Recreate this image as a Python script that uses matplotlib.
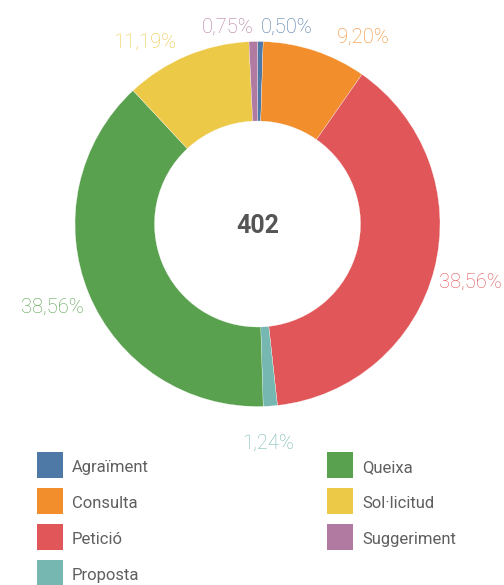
import matplotlib
matplotlib.use('Agg')
import matplotlib.pyplot as plt
import numpy as np
from matplotlib.patches import Rectangle

# ---- data ----
categories = ['Agraïment', 'Consulta', 'Petició', 'Proposta', 'Queixa', 'Sol·licitud', 'Suggeriment']
counts = [2, 37, 155, 5, 155, 45, 3]
pct_labels = ['0,50%', '9,20%', '38,56%', '1,24%', '38,56%', '11,19%', '0,75%']
colors = ['#4e79a7', '#f28e2b', '#e15759', '#76b7b2', '#59a14f', '#edc948', '#b07aa1']
total_label = '402'

plt.rcParams['font.family'] = ['Roboto', 'DejaVu Sans']

W, H = 504, 585
fig = plt.figure(figsize=(W / 100, H / 100), dpi=100)
ax = fig.add_axes([0, 0, 1, 1])

cx, cy = 257.5, H - 224
R = 182.5
ring = 79.5
wedges, _ = ax.pie(counts, colors=colors, startangle=90, counterclock=False,
                   center=(cx, cy), radius=R, frame=True,
                   wedgeprops=dict(width=ring, edgecolor='white', linewidth=0.2))
ax.set_xlim(0, W)
ax.set_ylim(0, H)
ax.set_aspect('equal')
ax.axis('off')

# centre total
ax.text(cx, H - 232.7, total_label, ha='center', va='baseline', fontsize=18,
        fontweight='bold', color='#555555')

# percentage labels outside the ring
gap, vshift, half_digit = 5, 10.5, 7
nudges = {1: (20, 0), 5: (-8, 0), 3: (-3, -20.5)}
for i, (w, lab) in enumerate(zip(wedges, pct_labels)):
    th = np.deg2rad((w.theta1 + w.theta2) / 2)
    vx, vy = np.cos(th), np.sin(th)
    x = cx + (R + gap) * vx
    yc = cy + (R + gap) * vy + np.sign(vy) * vshift
    ha = 'left' if vx > 0 else 'right'
    if i == 3:
        ha = 'center'
    dx, dy = nudges.get(i, (0, 0))
    ax.text(x + dx, yc + dy - half_digit, lab, ha=ha, va='baseline',
            fontsize=14.5, fontweight='light', color=colors[i])

# legend (two columns, 4 rows)
sq_x = [37, 327]
row0, pitch, sq = 465, 36, 26
for i, (lab, col) in enumerate(zip(categories, colors)):
    c, r = divmod(i, 4)
    yc = H - (row0 + r * pitch)
    ax.add_patch(Rectangle((sq_x[c], yc - sq / 2), sq, sq, facecolor=col, edgecolor='none'))
    ax.text(sq_x[c] + 35, yc - 7.3, lab, ha='left', va='baseline', fontsize=12,
            color='#5f5f5f')

fig.savefig('out.png', dpi=100)
